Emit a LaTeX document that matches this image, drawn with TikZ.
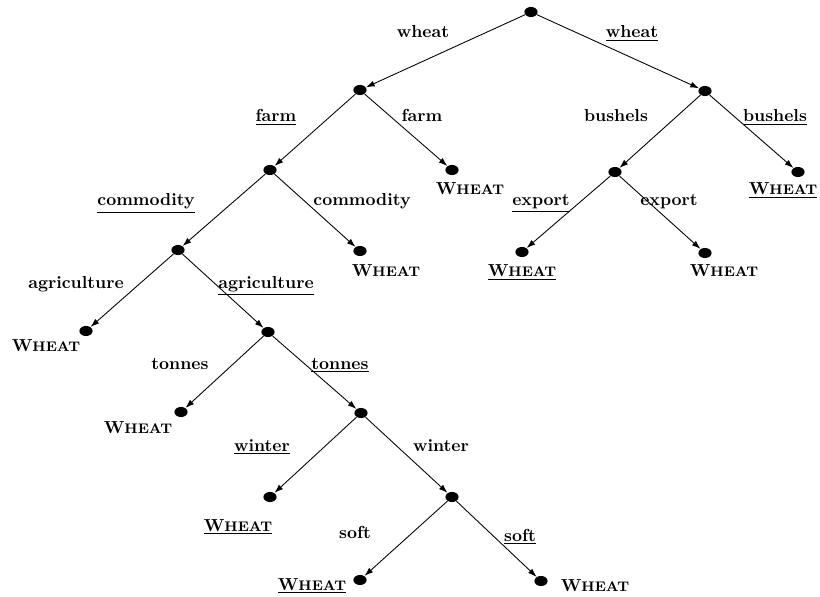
\documentclass[tikz,border=0pt]{standalone}
\usetikzlibrary{shapes.geometric,arrows.meta}

\newcommand{\wht}{\textbf{W{\footnotesize HEAT}}}

\begin{document}
\begin{tikzpicture}[x=0.575pt,y=-0.575pt,
  dot/.style={ellipse,fill,inner sep=0pt,minimum width=7.6pt,minimum height=5.8pt},
  lbl/.style={anchor=base,font=\bfseries,inner sep=0pt},
  link/.style={-{Latex[length=5pt,width=3.4pt]},line width=0.5pt}]

\useasboundingbox (0,0) rectangle (820,597);

% inner nodes
\node [dot] (root) at (531,12) {};
\node [dot] (farm) at (360,90) {};
\node [dot] (bushels) at (705,91) {};
\node [dot] (commodity) at (270,170) {};
\node [dot] (export) at (615,172) {};
\node [dot] (agric) at (178,250) {};
\node [dot] (tonnes) at (268,332) {};
\node [dot] (winter) at (361,413) {};
\node [dot] (soft) at (452,497) {};

% leaves
\node [dot] (farmleaf) at (452,170) {};
\node [dot] (bushleaf) at (798,172) {};
\node [dot] (commleaf) at (360,251) {};
\node [dot] (expleafl) at (522,252) {};
\node [dot] (expleafr) at (705,253) {};
\node [dot] (agrileaf) at (86,331) {};
\node [dot] (tonleaf) at (181,412) {};
\node [dot] (winleaf) at (270,497) {};
\node [dot] (softleafl) at (360,580) {};
\node [dot] (softleafr) at (541,581) {};

% arrows
\draw [link] (root) -- (farm) ;
\draw [link] (root) -- (bushels) ;
\draw [link] (farm) -- (commodity) ;
\draw [link] (farm) -- (farmleaf) ;
\draw [link] (bushels) -- (export) ;
\draw [link] (bushels) -- (bushleaf) ;
\draw [link] (commodity) -- (agric) ;
\draw [link] (commodity) -- (commleaf) ;
\draw [link] (export) -- (expleafl) ;
\draw [link] (export) -- (expleafr) ;
\draw [link] (agric) -- (agrileaf) ;
\draw [link] (agric) -- (tonnes) ;
\draw [link] (tonnes) -- (tonleaf) ;
\draw [link] (tonnes) -- (winter) ;
\draw [link] (winter) -- (winleaf) ;
\draw [link] (winter) -- (soft) ;
\draw [link] (soft) -- (softleafl) ;
\draw [link] (soft) -- (softleafr) ;

% edge labels
\node [lbl] (wheatl) at (423,38) {wheat};
\node [lbl] (wheatr) at (632,38) {\underline{wheat}};
\node [lbl] (farml) at (276,122) {\underline{farm}};
\node [lbl] (farmr) at (422,122) {farm};
\node [lbl] (bushl) at (616,122) {bushels};
\node [lbl] (bushr) at (775,122) {\underline{bushels}};
\node [lbl] (comml) at (146,206) {\underline{commodity}};
\node [lbl] (commr) at (362,206) {commodity};
\node [lbl] (expl) at (541,206) {\underline{export}};
\node [lbl] (expr) at (669,206) {export};
\node [lbl] (agril) at (76,288) {agriculture};
\node [lbl] (agrir) at (266,288) {\underline{agriculture}};
\node [lbl] (tonl) at (180,369) {tonnes};
\node [lbl] (tonr) at (340,369) {\underline{tonnes}};
\node [lbl] (winl) at (262,451) {\underline{winter}};
\node [lbl] (winr) at (441,451) {winter};
\node [lbl] (softl) at (355,538) {soft};
\node [lbl] (softr) at (520,541) {\underline{soft}};

% leaf labels
\node [lbl] (w1) at (470,195) {\wht};
\node [lbl] (w2) at (783,195) {\underline{\wht}};
\node [lbl] (w3) at (386,277) {\wht};
\node [lbl] (w4) at (522,277) {\underline{\wht}};
\node [lbl] (w5) at (724,277) {\wht};
\node [lbl] (w6) at (46,352) {\wht};
\node [lbl] (w7) at (138,433) {\wht};
\node [lbl] (w8) at (238,531) {\underline{\wht}};
\node [lbl] (w9) at (312,590) {\underline{\wht}};
\node [lbl] (w10) at (595,591) {\wht};

\end{tikzpicture}
\end{document}
